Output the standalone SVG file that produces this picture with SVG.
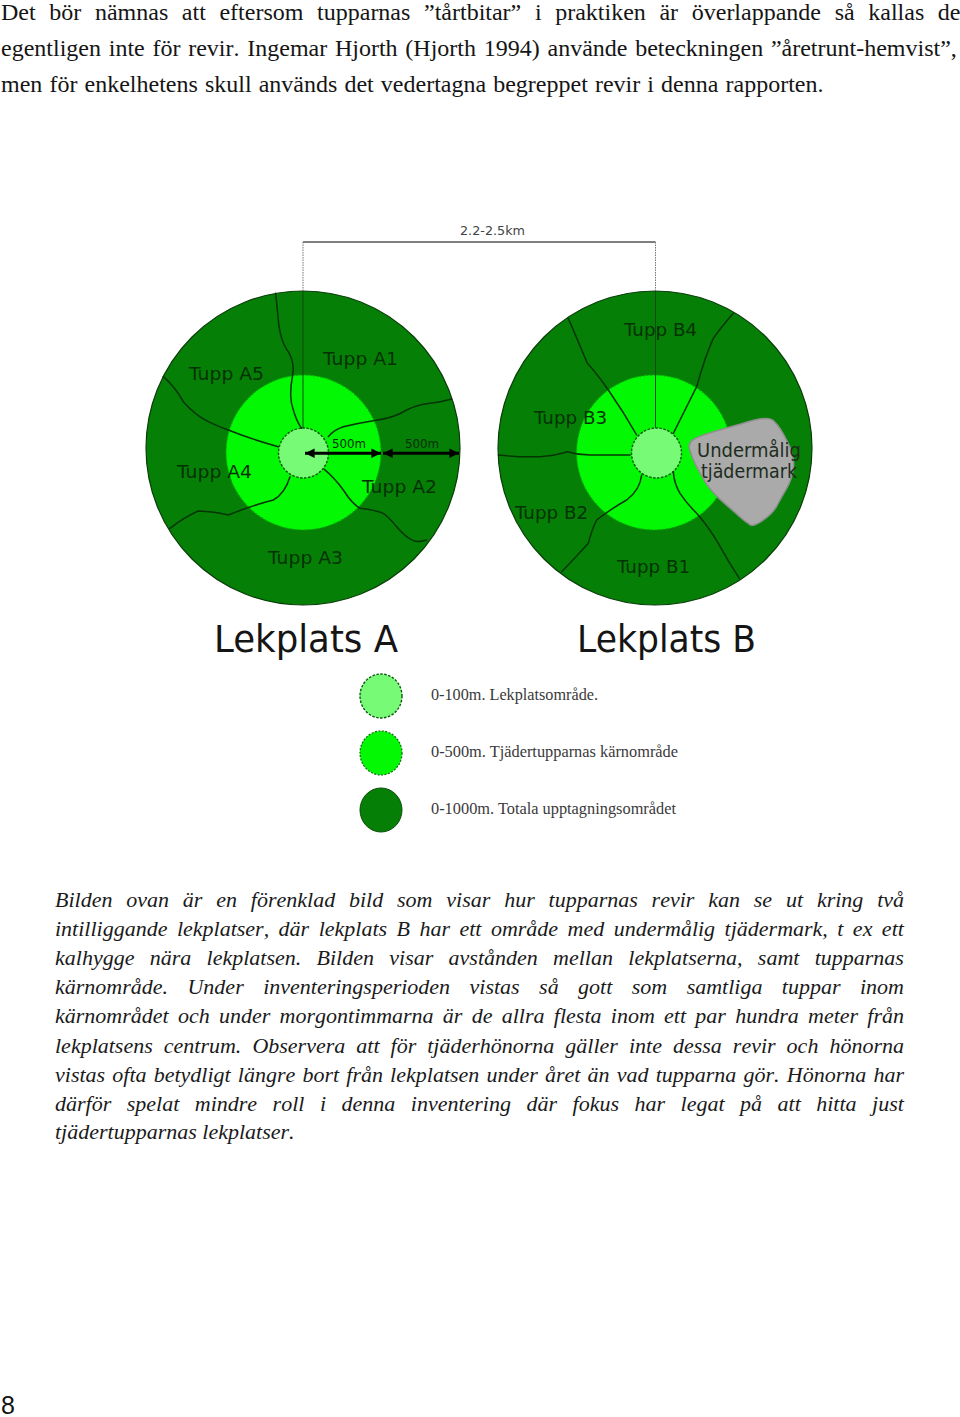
<svg xmlns="http://www.w3.org/2000/svg" width="960" height="1417" viewBox="0 0 960 1417">
<style>
.bg{fill:#fff}
.body{font-family:"Liberation Serif","Times New Roman",serif;font-size:24px;fill:#151515;font-kerning:none}
.cap{font-family:"Liberation Serif","Times New Roman",serif;font-size:22px;font-style:italic;fill:#1a1a1a;font-kerning:none}
.pg{font-family:"Liberation Sans",Arial,sans-serif;font-size:25px;fill:#151515}
.lbl{font-family:"DejaVu Sans",sans-serif;font-size:18px;fill:#043204}
.und{font-family:"DejaVu Sans",sans-serif;font-size:19px;fill:#1c2c1c}
.small{font-family:"DejaVu Sans",sans-serif;font-size:12.5px;fill:#052f05}
.dist{font-family:"DejaVu Sans",sans-serif;font-size:12.5px;fill:#444}
.title{font-family:"DejaVu Sans",sans-serif;font-size:37px;fill:#151515}
.leg{font-family:"Liberation Serif",serif;font-size:16.5px;fill:#3a3a3a}
.outer{fill:#067f06;stroke:#0a3d0a;stroke-width:1.2}
.mid{fill:#03f803;stroke:#0aa80a;stroke-width:1.2;stroke-dasharray:2 1.5}
.core{fill:#77fb77;stroke:#0a5a0a;stroke-width:1.4;stroke-dasharray:2.5 1.5}
.b{fill:none;stroke:#053505;stroke-width:4.5;stroke-linecap:round;stroke-linejoin:round}
.dim{fill:none;stroke:#555;stroke-width:1.5}
.dot{fill:none;stroke:#777;stroke-width:1;stroke-dasharray:1.5 1}
.thin{fill:none;stroke:#0b4d0b;stroke-width:1}
.arr{stroke:#000;stroke-width:3;marker-start:url(#h);marker-end:url(#h)}
</style>
<defs>
<marker id="h" viewBox="0 0 10 10" refX="10" refY="5" markerWidth="3.2" markerHeight="4" orient="auto-start-reverse"><path d="M0 0L10 5L0 10z" fill="#000"/></marker>
</defs>
<rect class="bg" width="960" height="1417"/>

<g id="text-top" class="body">
<text x="1" y="20" word-spacing="7.63">Det bör nämnas att eftersom tupparnas ”tårtbitar” i praktiken är överlappande så kallas de</text>
<text x="1" y="56" word-spacing="1.75">egentligen inte för revir. Ingemar Hjorth (Hjorth 1994) använde beteckningen ”åretrunt-hemvist”,</text>
<text x="1" y="92" word-spacing="1.1">men för enkelhetens skull används det vedertagna begreppet revir i denna rapporten.</text>
</g>

<g id="distance-label"><text class="dist" x="460" y="235" textLength="65" lengthAdjust="spacingAndGlyphs">2.2-2.5km</text></g>

<g id="lekplats-a">
<circle class="outer" cx="303" cy="448" r="157"/>
<circle class="mid" cx="303.5" cy="452.5" r="77.5"/>
<circle class="core" cx="303.5" cy="453" r="25"/>
<text class="lbl" x="189" y="380" textLength="75" lengthAdjust="spacingAndGlyphs">Tupp A5</text>
<text class="lbl" x="323" y="365" textLength="75" lengthAdjust="spacingAndGlyphs">Tupp A1</text>
<text class="lbl" x="177" y="478" textLength="75" lengthAdjust="spacingAndGlyphs">Tupp A4</text>
<text class="lbl" x="362" y="493" textLength="75" lengthAdjust="spacingAndGlyphs">Tupp A2</text>
<text class="lbl" x="268" y="564" textLength="75" lengthAdjust="spacingAndGlyphs">Tupp A3</text>
<text class="small" x="332" y="448" textLength="34" lengthAdjust="spacingAndGlyphs">500m</text>
<text class="small" x="405" y="448" textLength="34" lengthAdjust="spacingAndGlyphs">500m</text>
</g>

<g id="lekplats-b">
<circle class="outer" cx="655" cy="448" r="157"/>
<circle class="mid" cx="654" cy="452.5" r="77.5"/>
<path id="undermalig-area" transform="translate(480 210) scale(.33333)" d="M665 677Q700 665 780 643Q868 612 884 636Q900 650 922 695Q945 740 940 775Q935 810 920 835Q905 860 892 885Q880 910 847 932Q815 955 805 940Q795 935 770 912Q745 890 717 865Q690 840 675 815Q660 790 647 765Q635 740 628 715Q622 690 665 677z" fill="#aaa" stroke="#8f8f8f" stroke-width="4.5"/>
<circle class="core" cx="656.5" cy="453" r="25"/>
<text class="lbl" x="624" y="336" textLength="73" lengthAdjust="spacingAndGlyphs">Tupp B4</text>
<text class="lbl" x="534" y="424" textLength="73" lengthAdjust="spacingAndGlyphs">Tupp B3</text>
<text class="lbl" x="515" y="519" textLength="73" lengthAdjust="spacingAndGlyphs">Tupp B2</text>
<text class="lbl" x="617" y="573" textLength="73" lengthAdjust="spacingAndGlyphs">Tupp B1</text>
<text class="und" x="697" y="457" textLength="104" lengthAdjust="spacingAndGlyphs">Undermålig</text>
<text class="und" x="701" y="478" textLength="96" lengthAdjust="spacingAndGlyphs">tjädermark</text>
</g>

<g id="connectors">
<path class="dim" d="M303 242H655.5"/>
<path class="dot" d="M303 242V291M655.5 242V291"/>
<path class="thin" d="M303 291V428M655.5 291V428"/>
<g transform="translate(130 210) scale(.33333)">
<path class="b" d="M437 250Q443 310 447 350Q455 400 475 425Q495 460 488 495Q475 560 490 600Q500 635 515 655"/>
<path class="b" d="M965 567Q930 577 900 580Q860 585 830 600Q790 625 730 632Q680 640 640 650Q610 660 595 680"/>
<path class="b" d="M890 990Q865 998 850 992Q825 980 800 950Q775 920 760 910Q735 900 690 895Q665 880 640 840Q615 805 583 778"/>
<path class="b" d="M120 955Q165 920 205 903Q255 905 295 915Q370 885 430 870Q465 850 480 800"/>
<path class="b" d="M100 500Q135 530 160 575Q195 615 235 635Q265 650 295 660Q370 690 445 710"/>
</g>
<g transform="translate(480 210) scale(.33333)">
<path class="b" d="M265 325Q295 395 322 460Q350 490 385 540Q430 605 470 675"/>
<path class="b" d="M760 310Q725 350 700 385Q675 440 650 530Q615 600 580 670"/>
<path class="b" d="M778 1105Q745 1055 715 1000Q685 950 650 910Q620 880 600 850Q582 820 580 785"/>
<path class="b" d="M245 1085Q285 1045 325 1000Q335 960 350 930Q395 895 440 870Q480 840 485 795"/>
<path class="b" d="M55 735Q120 742 180 740Q225 737 262 725Q295 735 330 735Q390 735 450 735"/>
</g>
<line class="arr" x1="305" y1="453.3" x2="381" y2="453.3"/>
<line class="arr" x1="383" y1="453.3" x2="459" y2="453.3"/>
</g>

<g id="title-a"><text class="title" x="214" y="652" textLength="184" lengthAdjust="spacingAndGlyphs">Lekplats A</text></g>
<g id="title-b"><text class="title" x="577" y="652" textLength="179" lengthAdjust="spacingAndGlyphs">Lekplats B</text></g>

<g id="legend-100"><ellipse class="core" cx="381" cy="696" rx="21" ry="22"/><text class="leg" x="431" y="700" textLength="167" lengthAdjust="spacingAndGlyphs">0-100m. Lekplatsområde.</text></g>
<g id="legend-500"><ellipse class="mid" cx="381" cy="753" rx="21" ry="22" style="stroke:#0a6a0a"/><text class="leg" x="431" y="757" textLength="247" lengthAdjust="spacingAndGlyphs">0-500m. Tjädertupparnas kärnområde</text></g>
<g id="legend-1000"><ellipse cx="381" cy="810" rx="21" ry="22" fill="#067f06" stroke="#0a4d0a" stroke-width="1"/><text class="leg" x="431" y="814" textLength="245" lengthAdjust="spacingAndGlyphs">0-1000m. Totala upptagningsområdet</text></g>

<g id="text-caption" class="cap">
<text x="55" y="907" word-spacing="8.33">Bilden ovan är en förenklad bild som visar hur tupparnas revir kan se ut kring två</text>
<text x="55" y="936" word-spacing="3.96">intilliggande lekplatser, där lekplats B har ett område med undermålig tjädermark, t ex ett</text>
<text x="55" y="965" word-spacing="9.8">kalhygge nära lekplatsen. Bilden visar avstånden mellan lekplatserna, samt tupparnas</text>
<text x="55" y="994" word-spacing="13.94">kärnområde. Under inventeringsperioden vistas så gott som samtliga tuppar inom</text>
<text x="55" y="1023" word-spacing="3.78">kärnområdet och under morgontimmarna är de allra flesta inom ett par hundra meter från</text>
<text x="55" y="1053" word-spacing="5.52">lekplatsens centrum. Observera att för tjäderhönorna gäller inte dessa revir och hönorna</text>
<text x="55" y="1082" word-spacing="1.67">vistas ofta betydligt längre bort från lekplatsen under året än vad tupparna gör. Hönorna har</text>
<text x="55" y="1111" word-spacing="10">därför spelat mindre roll i denna inventering där fokus har legat på att hitta just</text>
<text x="55" y="1139">tjädertupparnas lekplatser.</text>
</g>

<g id="page-number"><text class="pg" x="1" y="1414">8</text></g>
</svg>
